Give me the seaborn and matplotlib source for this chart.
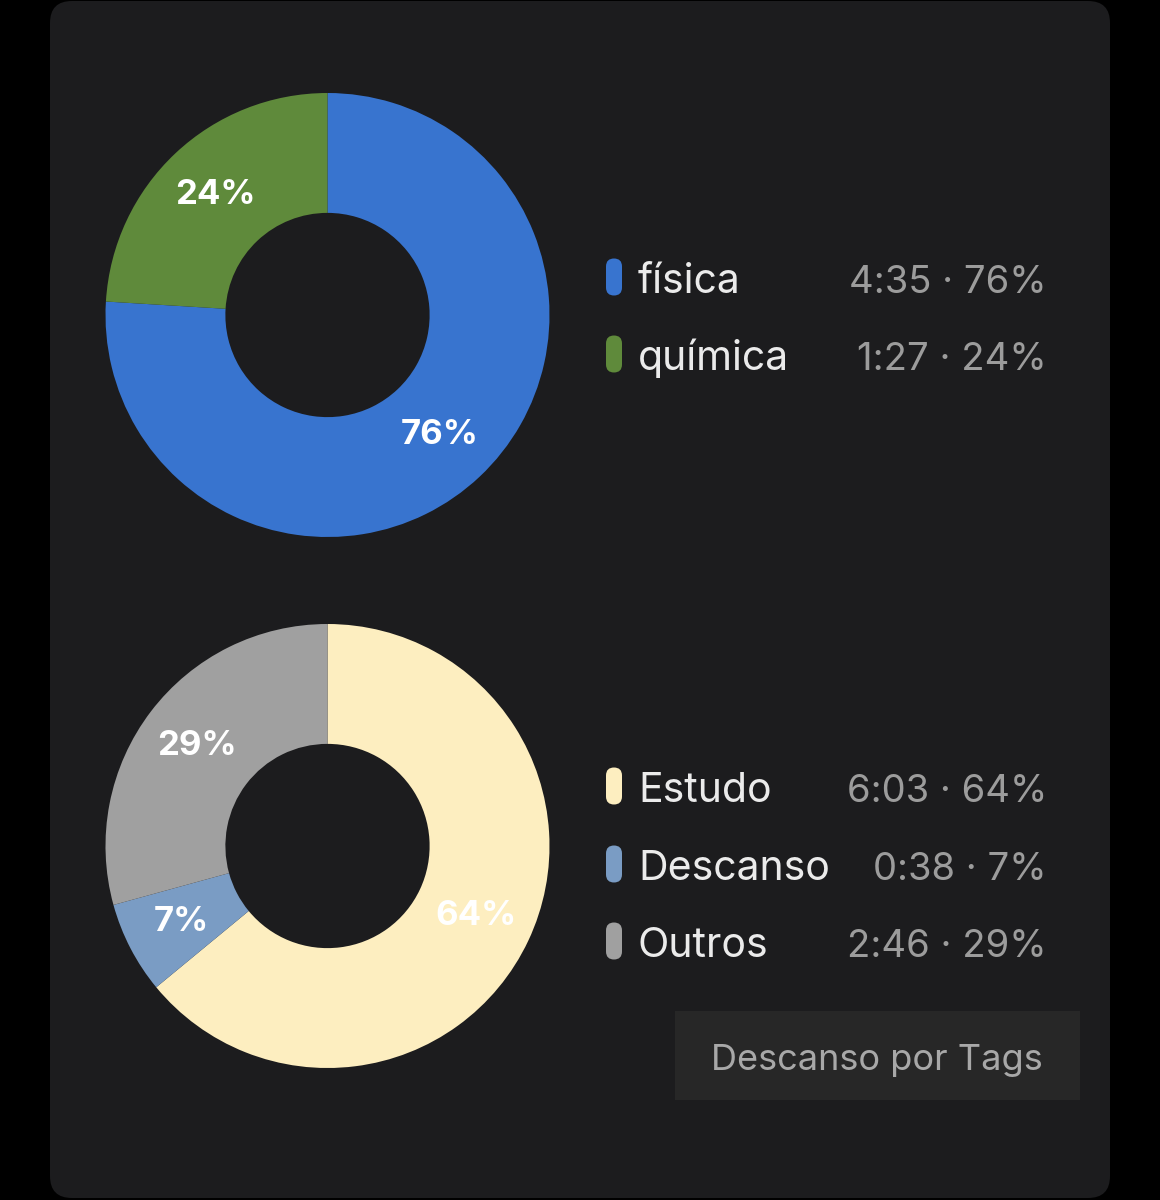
import matplotlib
matplotlib.use("Agg")
import matplotlib.pyplot as plt
from matplotlib.patches import FancyBboxPatch
import seaborn as sns

# ---- data ----
subjects = ["física", "química"]
subject_minutes = [275, 87]          # 4:35, 1:27
subject_colors = ["#3874CF", "#5F8A3B"]

tags = ["Estudo", "Descanso", "Outros"]
tag_minutes = [363, 38, 166]         # 6:03, 0:38, 2:46
tag_colors = ["#FDEEC0", "#7A9CC4", "#A0A0A0"]

button_label = "Descanso por Tags"

# ---- style ----
sns.set_theme(style="dark")
plt.rcParams["font.family"] = ["Inter", "DejaVu Sans"]

W, H = 1160, 1200
fig = plt.figure(figsize=(W / 100, H / 100), dpi=100, facecolor="black")

# background overlay axes in pixel coordinates
bg = fig.add_axes([0, 0, 1, 1], zorder=0)
bg.set_xlim(0, W)
bg.set_ylim(H, 0)
bg.axis("off")
bg.set_facecolor("black")
bg.add_patch(FancyBboxPatch((50, 1), 1060, 1197,
                            boxstyle="round,pad=0,rounding_size=22",
                            facecolor="#1C1C1E", edgecolor="none"))

def to_time(m):
    return f"{m // 60}:{m % 60:02d}"

def donut(cx, cy, values, colors):
    r = 222
    ax = fig.add_axes([(cx - r) / W, (H - cy - r) / H, 2 * r / W, 2 * r / H], zorder=2)
    ax.set_facecolor("none")
    ax.pie(values, colors=colors, startangle=90, counterclock=False, radius=1,
           autopct=lambda p: f"{p:.0f}%", pctdistance=0.74,
           wedgeprops=dict(width=0.54, edgecolor="none", linewidth=0),
           textprops=dict(color="white", fontsize=25, fontweight="bold"))
    ax.set_xlim(-1, 1)
    ax.set_ylim(-1, 1)
    ax.set_aspect("equal")
    ax.axis("off")
    return ax

donut(327.5, 315, subject_minutes, subject_colors)
donut(327.5, 846, tag_minutes, tag_colors)

def legend(rows_y, names, minutes, colors):
    total = sum(minutes)
    for y, n, m, c in zip(rows_y, names, minutes, colors):
        bg.add_patch(FancyBboxPatch((606, y - 18.5), 16, 37,
                                    boxstyle="round,pad=0,rounding_size=8",
                                    facecolor=c, edgecolor="none", zorder=3))
        bg.text(638, y + 16, n, color="#EBEBEB", fontsize=29.5, va="baseline",
                ha="left", zorder=3)
        bg.text(1047, y + 16, f"{to_time(m)} · {100 * m / total:.0f}%",
                color="#9C9C9C", fontsize=27.5, va="baseline", ha="right", zorder=3)

legend([277, 354], subjects, subject_minutes, subject_colors)
legend([786, 864, 941], tags, tag_minutes, tag_colors)

# button
bg.add_patch(FancyBboxPatch((675, 1011), 405, 89, boxstyle="square,pad=0",
                            facecolor="#272727", edgecolor="none", zorder=3))
bg.text(877, 1070, button_label, color="#A8A8A8", fontsize=26,
        ha="center", va="baseline", zorder=4)

fig.savefig("out.png", dpi=100, facecolor="black")
